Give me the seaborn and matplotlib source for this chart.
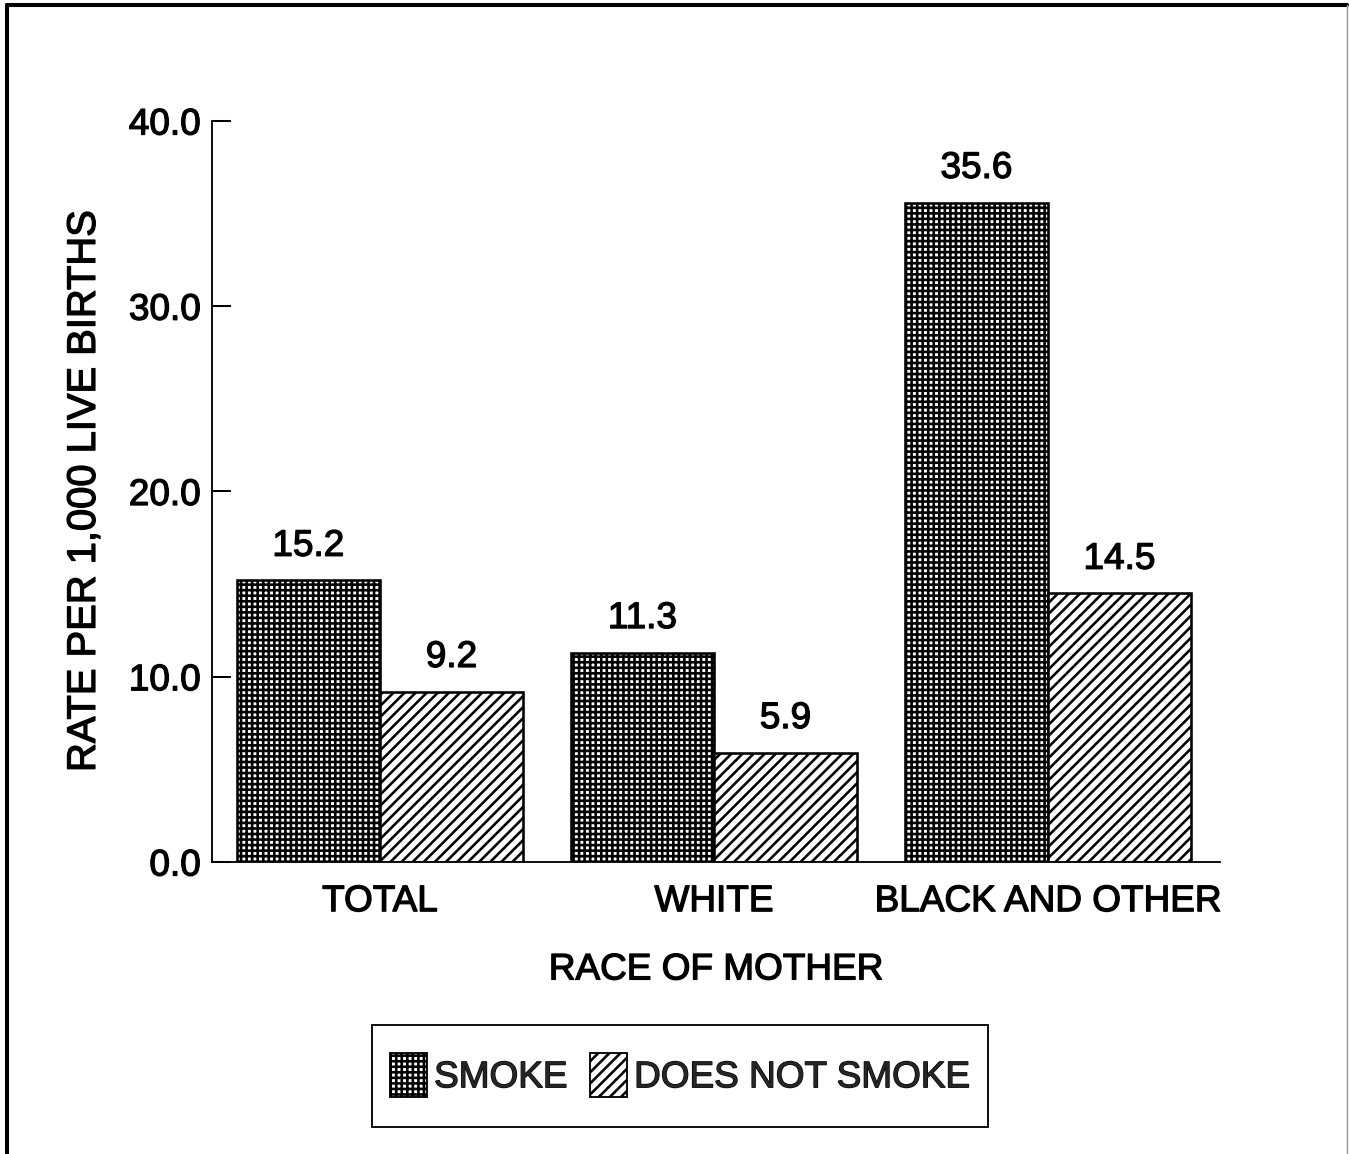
import matplotlib
matplotlib.use("Agg")
import matplotlib.pyplot as plt
from matplotlib.patches import Patch, Rectangle
from matplotlib.lines import Line2D
import matplotlib.patheffects as pe
import seaborn as sns
import pandas as pd

# Infant mortality rate by race of mother and smoking status
races = ["TOTAL", "WHITE", "BLACK AND OTHER"]
smoke = [15.2, 11.3, 35.6]
no_smoke = [9.2, 5.9, 14.5]
groups = ["SMOKE", "DOES NOT SMOKE"]
y_ticks = [0.0, 10.0, 20.0, 30.0, 40.0]

df = pd.DataFrame({
    "race": races * 2,
    "rate": smoke + no_smoke,
    "group": [groups[0]] * len(races) + [groups[1]] * len(races),
})

sns.set_theme(style="white")
plt.rcParams["font.family"] = ["Liberation Sans", "DejaVu Sans"]
plt.rcParams["hatch.linewidth"] = 1.4
plt.rcParams["hatch.color"] = "black"

FS = 20.0
heavy = [pe.withStroke(linewidth=0.7, foreground="black")]

DPI = 133
W, H = 1349, 1154
fig = plt.figure(figsize=(W / DPI, H / DPI), dpi=DPI, facecolor="white")
ax = fig.add_axes([212 / W, 1 - 862 / H, (1220 - 212) / W, (862 - 121) / H])

sns.barplot(data=df, x="race", y="rate", hue="group", order=races, hue_order=groups,
            palette=["white", "white"], width=0.857, gap=0, edgecolor="black",
            linewidth=1.4, saturation=1, ax=ax, legend=False)

hatches = ["++++", "////"]
for cont, h in zip(ax.containers, hatches):
    for bar in cont:
        bar.set_hatch(h)
        bar.set_edgecolor("black")
    texts = ax.bar_label(cont, labels=[f"{v:.1f}" for v in cont.datavalues],
                         padding=9, fontsize=FS, color="black")
    for t in texts:
        t.set_path_effects(heavy)

ax.set_xlim(-0.503, 2.515)
ax.set_ylim(0, 40)
ax.set_yticks(y_ticks)
ax.set_yticklabels([f"{t:.1f}" for t in y_ticks], fontsize=FS)
ax.tick_params(axis="y", direction="in", length=10.5, width=1.1, pad=6, left=True, colors="black")
ax.tick_params(axis="x", length=0, pad=12, labelsize=FS, colors="black")
ax.set_xlabel("RACE OF MOTHER", fontsize=FS, labelpad=18, color="black")
ax.set_ylabel("RATE PER 1,000 LIVE BIRTHS", fontsize=21.6, labelpad=14, color="black")
for t in ax.get_xticklabels() + ax.get_yticklabels() + [ax.xaxis.label, ax.yaxis.label]:
    t.set_path_effects(heavy)

for side in ["top", "right"]:
    ax.spines[side].set_visible(False)
for side in ["left", "bottom"]:
    ax.spines[side].set_color("black")
    ax.spines[side].set_linewidth(1.0)

# legend box with its own frame
fig.add_artist(Rectangle((372 / W, 1 - 1127 / H), (988 - 372) / W, (1127 - 1025) / H,
                         transform=fig.transFigure, facecolor="none", edgecolor="black",
                         linewidth=1.0))
handles = [Patch(facecolor="white", edgecolor="black", hatch=h, linewidth=1.0) for h in hatches]
leg = fig.legend(handles, groups, loc="center", bbox_to_anchor=(680 / W, 1 - 1075 / H),
                 ncol=2, frameon=False, fontsize=FS, handlelength=1.0, handleheight=1.45,
                 handletextpad=0.2, columnspacing=0.6, borderpad=0, borderaxespad=0)
for t in leg.get_texts():
    t.set_path_effects(heavy)

# page border around the figure
fig.add_artist(Line2D([7 / W, 7 / W], [0, 1 - 5 / H], transform=fig.transFigure,
                      color="black", linewidth=2.2))
fig.add_artist(Line2D([7 / W, 1347 / W], [1 - 5 / H, 1 - 5 / H],
                      transform=fig.transFigure, color="black", linewidth=2.2))
fig.add_artist(Line2D([1347 / W, 1347 / W], [0, 1 - 5 / H], transform=fig.transFigure,
                      color="#999999", linewidth=0.8))

fig.savefig("out.png", dpi=DPI, facecolor="white")
